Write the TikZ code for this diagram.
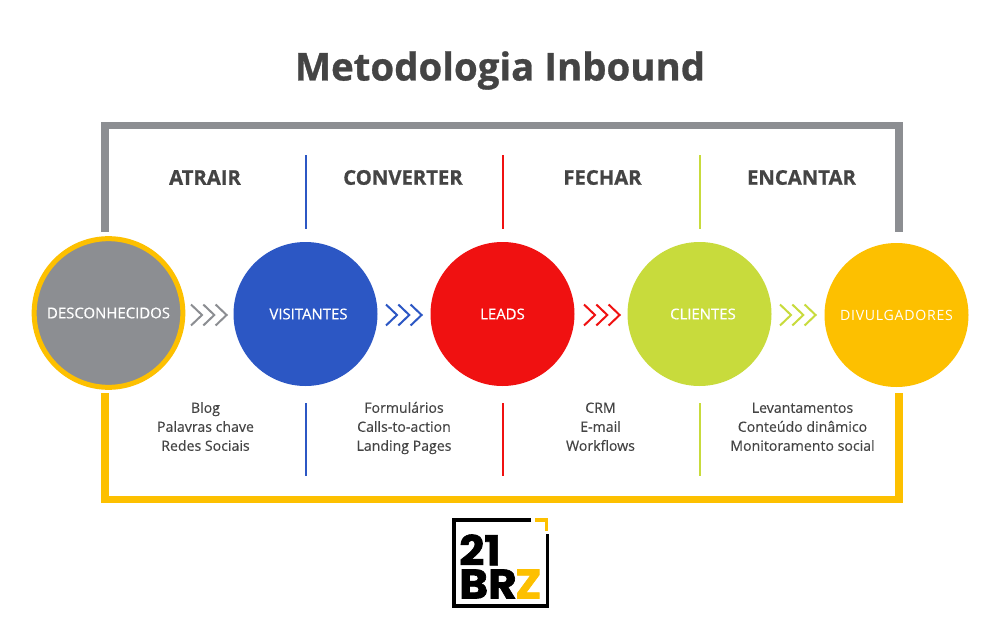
\documentclass[tikz,border=0pt]{standalone}
\usepackage{fontspec}
\setmainfont{Open Sans}
\newfontfamily\logofont[FakeBold=1.5]{Poppins Bold}
\newfontfamily\stagefont[FakeBold=0.5]{Open Sans}
\newfontfamily\toolfont[FakeBold=0.25]{Open Sans}
\newfontfamily\divfont[LetterSpace=5]{Open Sans}
\newfontfamily\heavyfont[FakeBold=0.8]{Open Sans Bold}
\definecolor{cgrey}{HTML}{8C8E92}
\definecolor{cblue}{HTML}{2C57C4}
\definecolor{cred}{HTML}{F01111}
\definecolor{cgreen}{HTML}{C8DB3C}
\definecolor{cyel}{HTML}{FDC000}
\definecolor{ctxt}{HTML}{444444}
\tikzset{
 stage/.style={circle,minimum size=108pt,inner sep=0pt,text=white,font=\stagefont\fontsize{11.2pt}{12pt}\selectfont},
 head/.style={text=ctxt,font=\heavyfont\fontsize{15.2pt}{16pt}\selectfont},
 tools/.style={text=ctxt,align=center,font=\toolfont\fontsize{10.6pt}{14.25pt}\selectfont},
 framebar/.style={line width=5.4pt},
 divider/.style={line width=1pt},
 chev/.style={line width=1.5pt,miter limit=4},
 logotext/.style={anchor=base west,inner sep=0pt,align=left,xscale=1.06,font=\logofont\fontsize{31pt}{24.9pt}\selectfont},
}
\newcommand{\chevrons}[2]{%
 \foreach \dx in {0,12.3,24.6}{\draw[chev,#2] ($(#1)+(\dx,-10.5)$) -- ++(11,10.5) -- ++(-11,10.5);}}
\usetikzlibrary{calc}
\begin{document}
\begin{tikzpicture}[x=0.75pt,y=-0.75pt]
\useasboundingbox (0,0) rectangle (1000,617);
\fill[white] (0,0) rectangle (1000,617);
\node[text=ctxt,font=\heavyfont\fontsize{28.8pt}{30pt}\selectfont] (title) at (500,70.5) {Metodologia Inbound};

\coordinate (gs) at (105,232); \coordinate (gt) at (105,125.5); \coordinate (ge) at (899,232); \coordinate (gu) at (899,125.5);
\draw[framebar,cgrey,line join=miter] (gs) -- (gt) -- (gu) -- (ge);
\coordinate (ys) at (105,393); \coordinate (yb) at (105,499.5); \coordinate (ye) at (899,393); \coordinate (yu) at (899,499.5);
\draw[framebar,cyel,line join=miter] (ys) -- (yb) -- (yu) -- (ye);

\node[stage,fill=cgrey,draw=cyel,line width=3.75pt,minimum size=111.5pt] (a) at (108.5,313) {\raisebox{-0.7pt}{DESCONHECIDOS}};
\node[stage,fill=cblue] (b) at (305.5,314) {\hspace*{4.5pt}VISITANTES};
\node[stage,fill=cred] (c) at (502.5,314) {LEADS};
\node[stage,fill=cgreen] (d) at (699.5,314) {\hspace*{5.2pt}CLIENTES};
\node[stage,fill=cyel,font=\divfont\fontsize{10.6pt}{12pt}\selectfont] (e) at (896.5,315) {DIVULGADORES};

\node[head] (h1) at (205,177.5) {ATRAIR};
\node[head] (h2) at (403,177.5) {CONVERTER};
\node[head] (h3) at (602.5,177.5) {FECHAR};
\node[head] (h4) at (801.5,177.5) {ENCANTAR};

\coordinate (d1a) at (306,155); \coordinate (d1b) at (306,229); \coordinate (d1c) at (306,403); \coordinate (d1d) at (306,476);
\coordinate (d2a) at (503,155); \coordinate (d2b) at (503,229); \coordinate (d2c) at (503,403); \coordinate (d2d) at (503,476);
\coordinate (d3a) at (700,155); \coordinate (d3b) at (700,229); \coordinate (d3c) at (700,403); \coordinate (d3d) at (700,476);
\draw[divider,cblue] (d1a)--(d1b) (d1c)--(d1d);
\draw[divider,cred] (d2a)--(d2b) (d2c)--(d2d);
\draw[divider,cgreen] (d3a)--(d3b) (d3c)--(d3d);

\coordinate (c1) at (191,315); \coordinate (c2) at (386,315); \coordinate (c3) at (584,315); \coordinate (c4) at (780,315);
\chevrons{c1}{cgrey}
\chevrons{c2}{cblue}
\chevrons{c3}{cred}
\chevrons{c4}{cgreen}

\node[tools] (t1) at (205.5,428) {\strut Blog\\\strut Palavras chave\\\strut Redes Sociais};
\node[tools] (t2) at (404,428) {\strut Formulários\\\strut Calls-to-action\\\strut Landing Pages};
\node[tools] (t3) at (600.5,428) {\strut CRM\\\strut E-mail\\\strut Workflows};
\node[tools] (t4) at (802.5,428) {\strut Levantamentos\\\strut Conteúdo dinâmico\\\strut Monitoramento social};

% logo
\draw[black,line width=2.6pt,line join=miter] (531,520) -- (454,520) -- (454,606) -- (547.5,606) -- (547.5,534);
\draw[cyel,line width=2.6pt,line join=miter] (535,520) -- (546.5,520) -- (546.5,531);
\node[logotext] (l1) at (459,598.5) {21\\BR\kern-1pt\textcolor{cyel}{Z}};
\end{tikzpicture}
\end{document}
